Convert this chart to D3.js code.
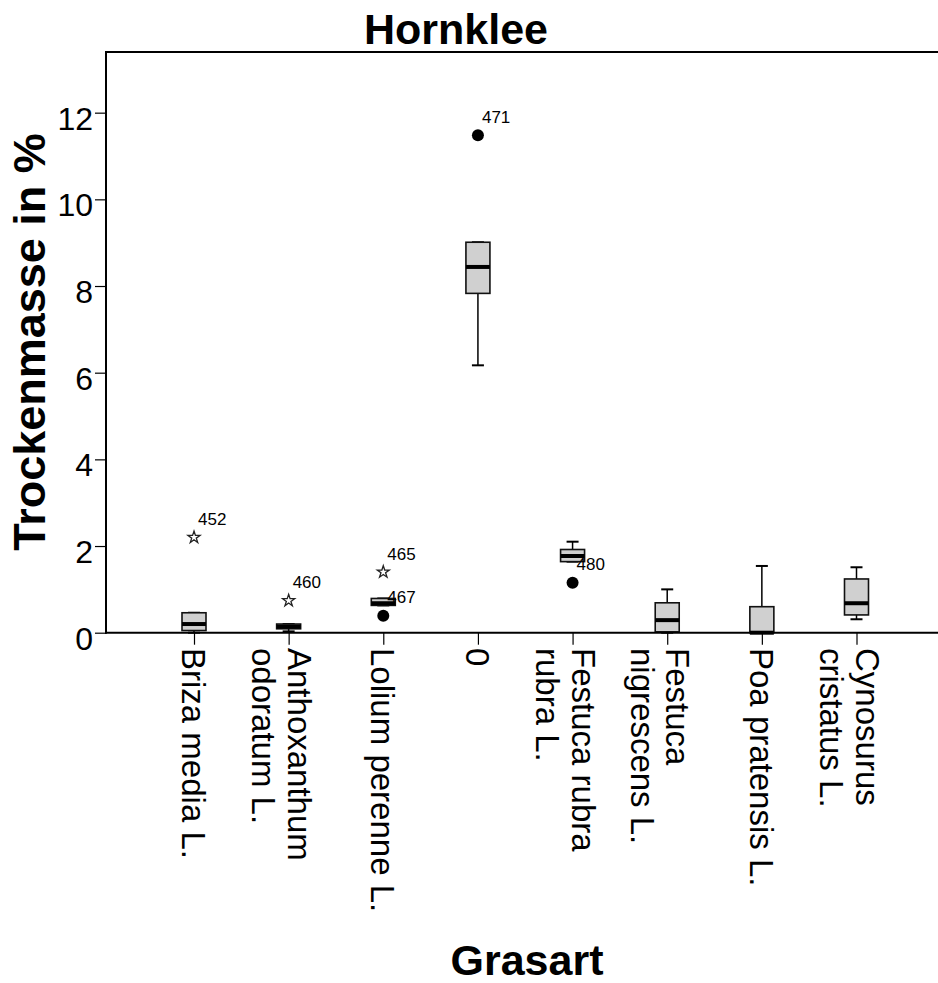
<!DOCTYPE html>
<html>
<head>
<meta charset="utf-8">
<script src="https://cdn.jsdelivr.net/npm/d3@7"></script>
<style>
  html, body { margin: 0; padding: 0; background: #fff; }
  svg { display: block; font-family: "Liberation Sans", Arial, sans-serif; }
</style>
</head>
<body>
<svg id="chart" width="938" height="983"></svg>
<script>
// ---- data ----
const categories = [
  ["Briza media L."],
  ["Anthoxanthum", "odoratum L."],
  ["Lolium perenne L."],
  ["0"],
  ["Festuca rubra", "rubra L."],
  ["Festuca", "nigrescens L."],
  ["Poa pratensis L."],
  ["Cynosurus", "cristatus L."]
];
const whiskerLow  = [0.00, 0.03, 0.63, 6.17, 1.64, 0.00, 0.00, 0.31];
const q1          = [0.05, 0.09, 0.63, 7.83, 1.64, 0.02, 0.00, 0.41];
const median      = [0.20, 0.14, 0.68, 8.44, 1.77, 0.29, 0.00, 0.68];
const q3          = [0.46, 0.20, 0.79, 9.01, 1.92, 0.69, 0.60, 1.24];
const whiskerHigh = [0.46, 0.20, 0.79, 9.01, 2.10, 1.00, 1.54, 1.51];
// outliers: [category index, value, case label, type]
const outliers = [
  [0, 2.20, "452", "extreme"],
  [1, 0.74, "460", "extreme"],
  [2, 1.40, "465", "extreme"],
  [2, 0.39, "467", "outlier"],
  [3, 11.48, "471", "outlier"],
  [4, 1.15, "480", "outlier"]
];
const yTicks = [0, 2, 4, 6, 8, 10, 12];
const chartTitle = "Hornklee";
const xTitle = "Grasart";
const yTitle = "Trockenmasse in %";

// ---- layout ----
const svg = d3.select("#chart");
const pLeft = 106, pTop = 52, pBottom = 632.7, pRight = 945;

const keys = categories.map(c => c.join(" "));
const x = d3.scalePoint().domain(keys).range([194, 856.5]);
const y = d3.scaleLinear().domain([0, 13.4]).range([pBottom, pTop]);

// frame
svg.append("line").attr("x1", pLeft).attr("x2", pRight).attr("y1", pTop).attr("y2", pTop)
  .attr("stroke", "#000").attr("stroke-width", 2);

// y axis
const yAxis = svg.append("g").attr("transform", `translate(${pLeft},0)`)
  .call(d3.axisLeft(y).tickValues(yTicks).tickSize(11).tickPadding(2).tickFormat(d3.format("d")));
yAxis.select(".domain").remove();
yAxis.selectAll(".tick line").attr("stroke", "#000").attr("stroke-width", 1.2);
yAxis.selectAll(".tick text").attr("font-size", 32).attr("fill", "#000")
  .attr("font-family", "Liberation Sans, Arial, sans-serif").attr("dy", "0.52em");
svg.append("line").attr("x1", pLeft).attr("x2", pLeft).attr("y1", pTop - 1).attr("y2", pBottom + 1)
  .attr("stroke", "#000").attr("stroke-width", 2);

// x axis ticks
const xAxis = svg.append("g").attr("transform", `translate(0,${pBottom})`)
  .call(d3.axisBottom(x).tickSize(12).tickFormat(""));
xAxis.select(".domain").remove();
xAxis.selectAll(".tick line").attr("stroke", "#000").attr("stroke-width", 1.2);

// x category labels (rotated)
const labelG = svg.append("g");
categories.forEach((lines, i) => {
  const g = labelG.append("g").attr("transform", `translate(${x(keys[i])},648) rotate(90)`);
  const offs = lines.length === 1 ? [12] : [1, 36.5];
  lines.forEach((ln, j) => {
    g.append("text").attr("x", 0).attr("y", offs[j]).attr("font-size", 33)
      .attr("fill", "#000").text(ln);
  });
});

// boxes
const bw = 24, cw = 12;
const boxes = svg.append("g");
keys.forEach((k, i) => {
  const cx = x(k);
  boxes.append("line").attr("x1", cx).attr("x2", cx).attr("y1", y(q3[i])).attr("y2", y(whiskerHigh[i]))
    .attr("stroke", "#000").attr("stroke-width", 1.5);
  boxes.append("line").attr("x1", cx).attr("x2", cx).attr("y1", y(q1[i])).attr("y2", y(whiskerLow[i]))
    .attr("stroke", "#000").attr("stroke-width", 1.5);
  boxes.append("line").attr("x1", cx - cw / 2).attr("x2", cx + cw / 2)
    .attr("y1", y(whiskerHigh[i])).attr("y2", y(whiskerHigh[i])).attr("stroke", "#000").attr("stroke-width", 2);
  boxes.append("line").attr("x1", cx - cw / 2).attr("x2", cx + cw / 2)
    .attr("y1", y(whiskerLow[i])).attr("y2", y(whiskerLow[i])).attr("stroke", "#000").attr("stroke-width", 2);
  boxes.append("rect").attr("x", cx - bw / 2).attr("width", bw)
    .attr("y", y(q3[i])).attr("height", Math.max(0.5, y(q1[i]) - y(q3[i])))
    .attr("fill", "#d0d0d0").attr("stroke", "#111").attr("stroke-width", 1.6);
  boxes.append("line").attr("x1", cx - bw / 2).attr("x2", cx + bw / 2)
    .attr("y1", y(median[i])).attr("y2", y(median[i])).attr("stroke", "#000").attr("stroke-width", 4);
});

// x axis line
svg.append("line").attr("x1", pLeft - 1).attr("x2", pRight).attr("y1", pBottom).attr("y2", pBottom)
  .attr("stroke", "#000").attr("stroke-width", 2);

// outliers
const star = d3.symbol().type(d3.symbolStar).size(45);
outliers.forEach(([ci, v, lab, type]) => {
  const cx = x(keys[ci]), cy = y(v);
  if (type === "extreme") {
    svg.append("path").attr("d", star).attr("transform", `translate(${cx},${cy})`)
      .attr("fill", "none").attr("stroke", "#222").attr("stroke-width", 1.3);
  } else {
    svg.append("circle").attr("cx", cx).attr("cy", cy).attr("r", 6).attr("fill", "#000");
  }
  svg.append("text").attr("x", cx + 4).attr("y", cy - 12.5).attr("font-size", 17)
    .attr("fill", "#000").text(lab);
});

// titles
svg.append("text").attr("x", 456).attr("y", 43.5).attr("text-anchor", "middle")
  .attr("font-size", 43).attr("font-weight", "bold").attr("fill", "#000").text(chartTitle);
svg.append("text").attr("x", 527).attr("y", 975).attr("text-anchor", "middle")
  .attr("font-size", 43).attr("font-weight", "bold").attr("fill", "#000").text(xTitle);
svg.append("text").attr("transform", "translate(45,342) rotate(-90)").attr("text-anchor", "middle")
  .attr("font-size", 45).attr("font-weight", "bold").attr("fill", "#000").text(yTitle);
</script>
</body>
</html>
